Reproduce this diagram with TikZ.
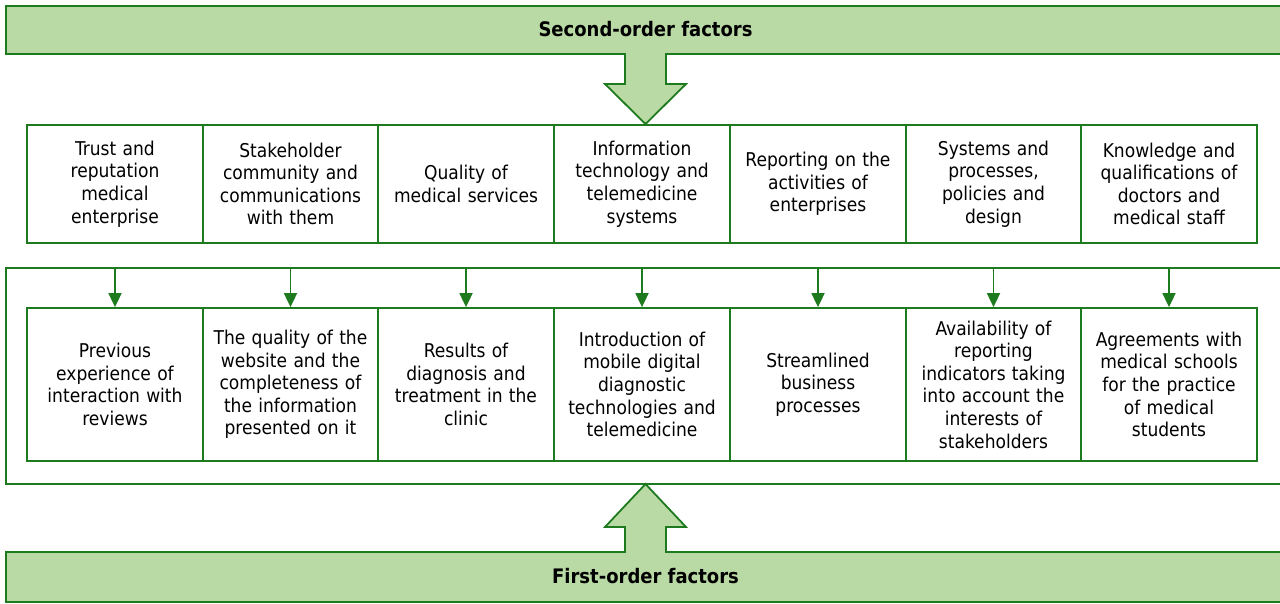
\documentclass[tikz,border=0pt]{standalone}
\usepackage{fontspec}
\setmainfont{DejaVu Sans Condensed}
\usetikzlibrary{arrows.meta}
\definecolor{edgegreen}{RGB}{30,122,30}
\definecolor{fillgreen}{RGB}{186,218,165}
\tikzset{
  factorbox/.style={draw=edgegreen, line width=1.8pt, fill=white,
    minimum height=#1, inner sep=2pt,
    text width=170pt, align=center, font=\fontsize{19}{22.6}\selectfont},
  banner/.style={draw=edgegreen, line width=1.8pt, fill=fillgreen, line join=miter},
  title/.style={font=\fontsize{20}{22}\selectfont\bfseries},
  link/.style={draw=edgegreen, line width=1.8pt, -{Triangle[length=14pt,width=13pt]}},
}
\begin{document}
\begin{tikzpicture}[x=1pt,y=-1pt]
\useasboundingbox (0,0) rectangle (1280,603);

% upper banner merged with the downward block arrow
\draw[banner] (6,6) -- (1295,6) -- (1295,54) -- (666,54) -- (666,84) -- (686,84)
  -- (645.5,124) -- (605,84) -- (625,84) -- (625,54) -- (6,54) -- cycle;
\node[title] (second) at (645.5,29) {Second-order factors};

% lower banner merged with the upward block arrow
\draw[banner] (6,602) -- (1295,602) -- (1295,552) -- (666,552) -- (666,527) -- (686,527)
  -- (645.5,484) -- (605,527) -- (625,527) -- (625,552) -- (6,552) -- cycle;
\node[title] (first) at (645.5,576) {First-order factors};

% frame around the first-order factors
\draw[edgegreen, line width=1.8pt] (1295,268) -- (6,268) -- (6,484) -- (1295,484);
\coordinate (frametop) at (6,268);

% second-order factors row (left edge / width / text)
\foreach \i/\l/\w/\txt in {
  1/27/176/{Trust and\\reputation\\medical\\enterprise},
  2/203/175/{Stakeholder\\community and\\communications\\with them},
  3/378/176/{Quality of\\medical services},
  4/554/176/{Information\\technology and\\telemedicine\\systems},
  5/730/176/{Reporting on the\\activities of\\enterprises},
  6/906/175/{Systems and\\processes,\\policies and\\design},
  7/1081/176/{Knowledge and\\qualifications of\\doctors and\\medical staff}}
  \node[factorbox=118pt, minimum width=\w pt] (t\i) at ({\l+\w/2},184) {\txt};

% first-order factors row
\foreach \i/\l/\w/\txt in {
  1/27/176/{Previous\\experience of\\interaction with\\reviews},
  2/203/175/{The quality of the\\website and the\\completeness of\\the information\\presented on it},
  3/378/176/{Results of\\diagnosis and\\treatment in the\\clinic},
  4/554/176/{Introduction of\\mobile digital\\diagnostic\\technologies and\\telemedicine},
  5/730/176/{Streamlined\\business\\processes},
  6/906/175/{Availability of\\reporting\\indicators taking\\into account the\\interests of\\stakeholders},
  7/1081/176/{Agreements with\\medical schools\\for the practice\\of medical\\students}}
  \node[factorbox=153pt, minimum width=\w pt] (b\i) at ({\l+\w/2},384.5) {\txt};

% arrows from the frame to each first-order factor
\foreach \i in {1,...,7}
  \draw[link] (b\i.north |- frametop) -- (b\i.north);
\end{tikzpicture}
\end{document}
